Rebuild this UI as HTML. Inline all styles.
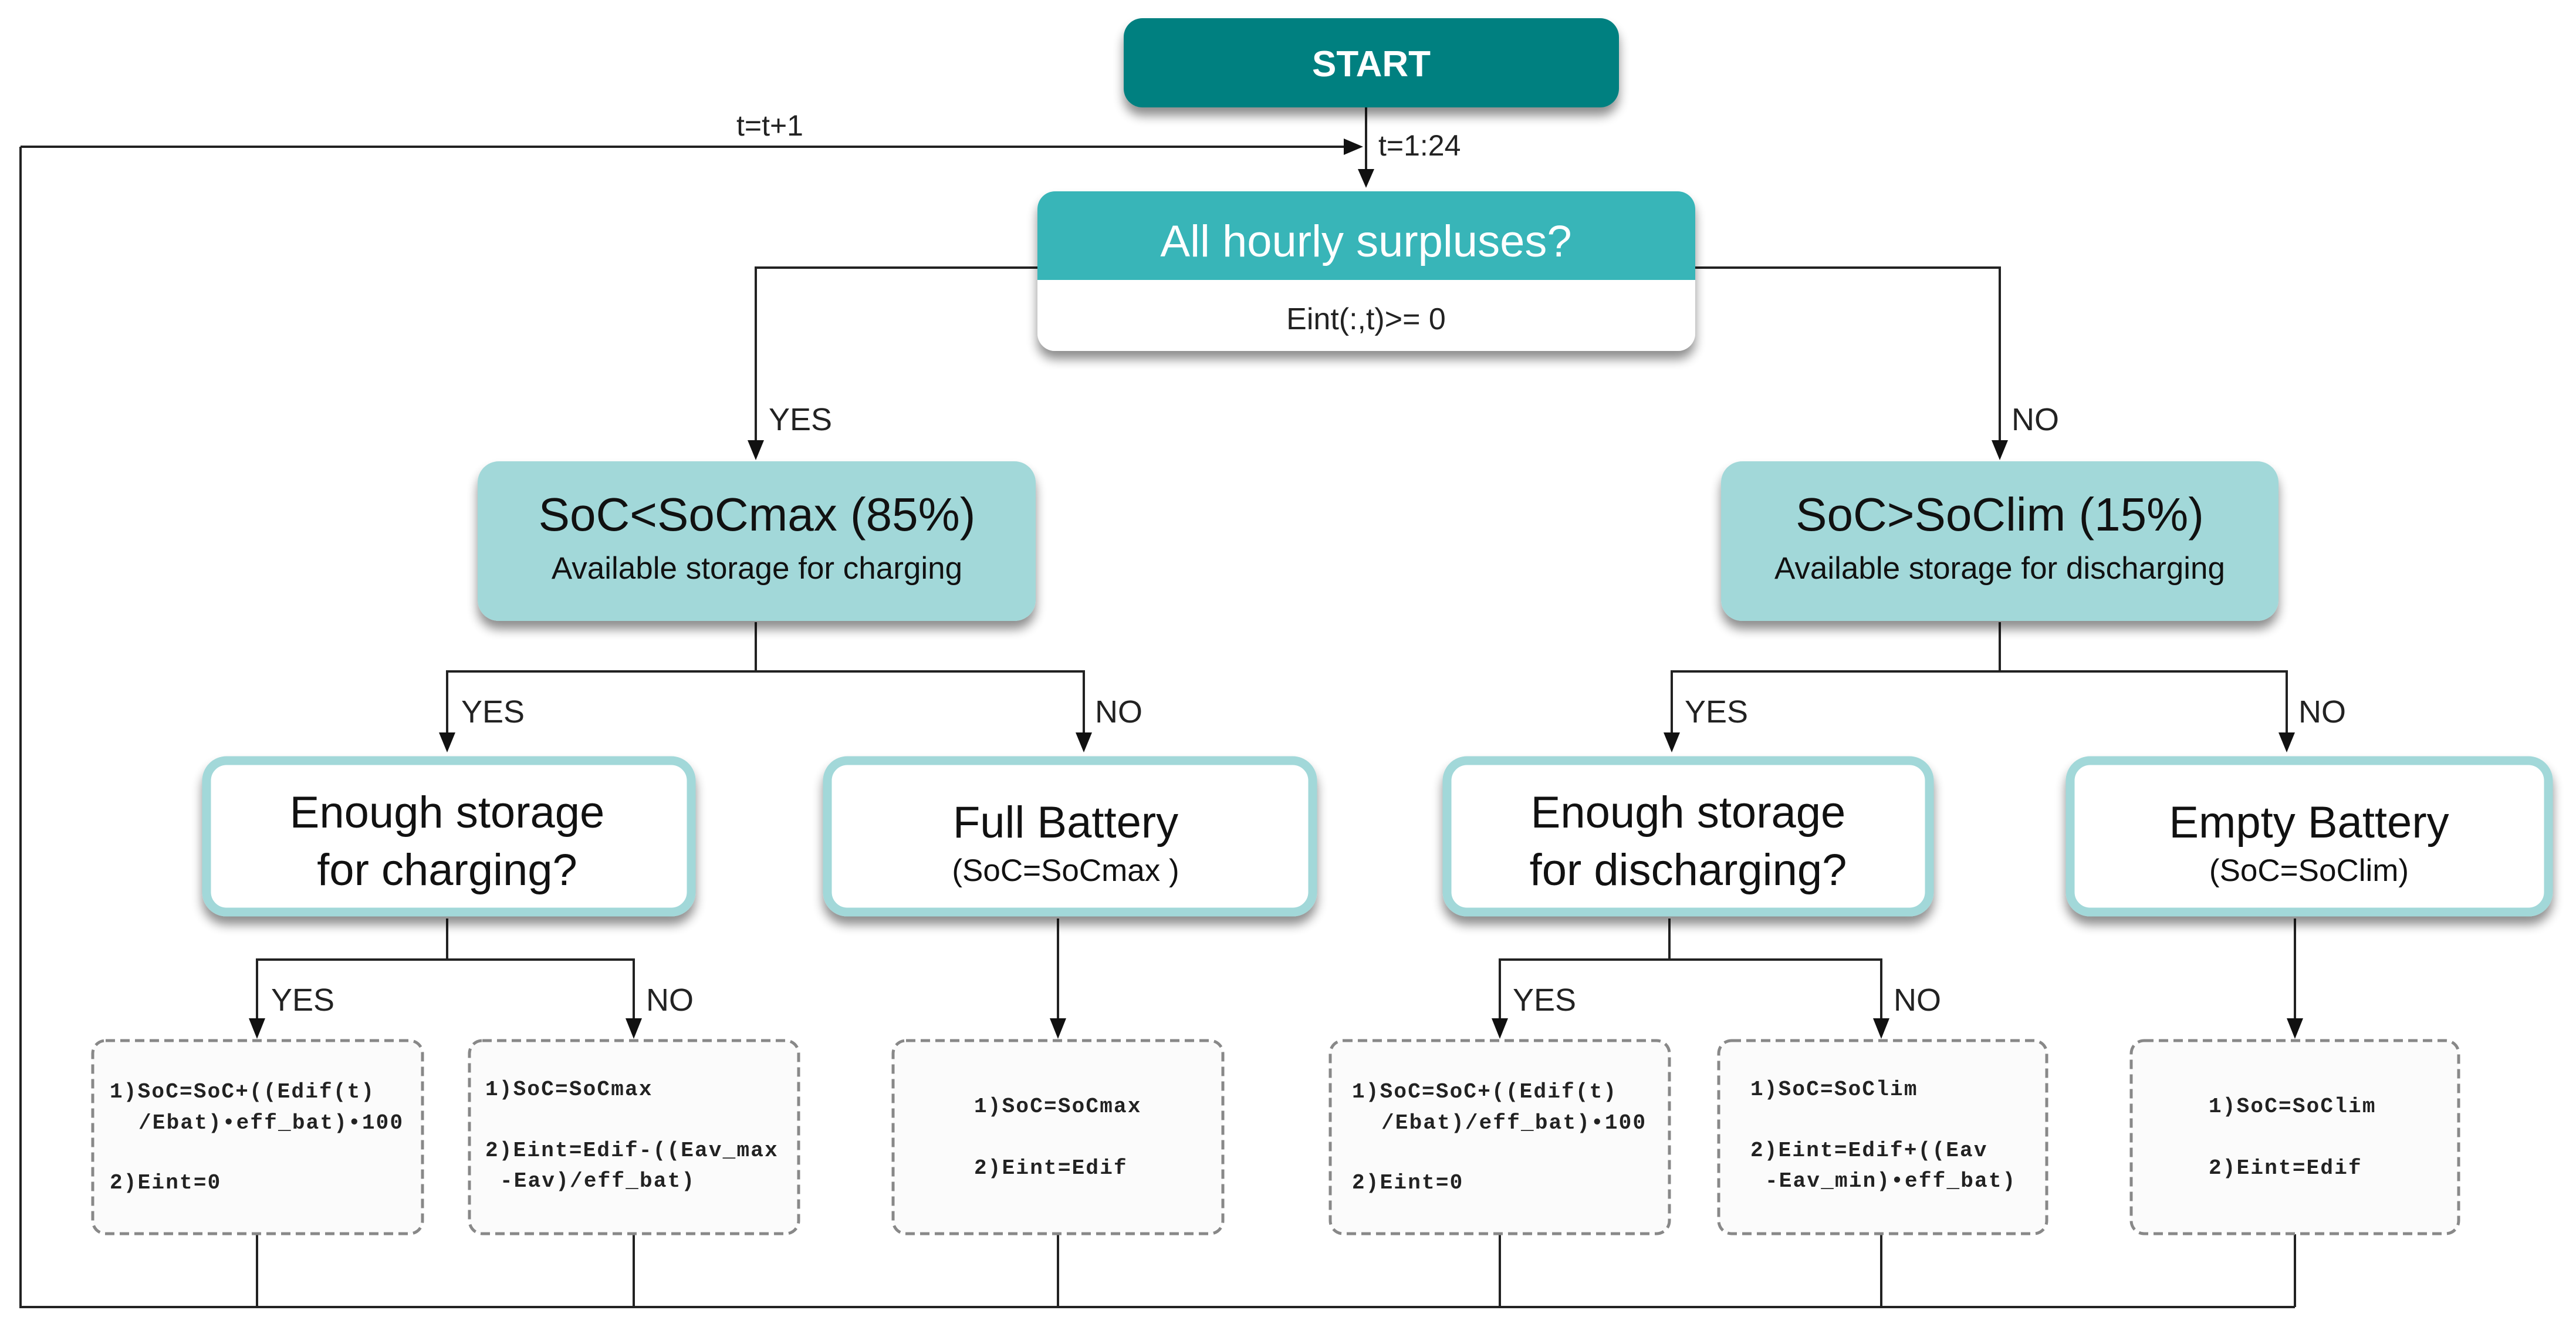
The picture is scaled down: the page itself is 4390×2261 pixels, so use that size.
<!DOCTYPE html>
<html><head><meta charset="utf-8"><style>
html,body{margin:0;padding:0;background:#fff;}
svg{display:block;}
.s{font-family:"Liberation Sans",sans-serif;}
.m{font-family:"Liberation Mono",monospace;font-weight:bold;font-size:36px;letter-spacing:2.2px;fill:#222;}
</style></head><body>
<svg width="4390" height="2261" viewBox="0 0 4390 2261" xmlns="http://www.w3.org/2000/svg">
<defs>
<filter id="sh" x="-10%" y="-20%" width="120%" height="160%">
<feGaussianBlur in="SourceAlpha" stdDeviation="9"/>
<feOffset dx="0" dy="14" result="b"/>
<feComponentTransfer><feFuncA type="linear" slope="0.45"/></feComponentTransfer>
<feMerge><feMergeNode/><feMergeNode in="SourceGraphic"/></feMerge>
</filter>
</defs>
<rect width="4390" height="2261" fill="#fff"/>

<g stroke="#222" stroke-width="4" fill="none">
<polyline points="35,250 35,2227 3911,2227"/>
<line x1="35" y1="250" x2="2300" y2="250"/>
<line x1="2328" y1="183" x2="2328" y2="290"/>
<polyline points="1768,456 1288,456 1288,750"/>
<polyline points="2889,456 3408,456 3408,750"/>
<line x1="1288" y1="1060" x2="1288" y2="1144"/>
<polyline points="762,1250 762,1144 1847,1144 1847,1250"/>
<line x1="3408" y1="1060" x2="3408" y2="1144"/>
<polyline points="2849,1250 2849,1144 3897,1144 3897,1250"/>
<line x1="762" y1="1565" x2="762" y2="1635"/>
<polyline points="438,1735 438,1635 1080,1635 1080,1735"/>
<line x1="1803" y1="1565" x2="1803" y2="1735"/>
<line x1="2845" y1="1565" x2="2845" y2="1635"/>
<polyline points="2556,1735 2556,1635 3206,1635 3206,1735"/>
<line x1="3911" y1="1565" x2="3911" y2="1735"/>
<line x1="438" y1="2103" x2="438" y2="2227"/>
<line x1="1080" y1="2103" x2="1080" y2="2227"/>
<line x1="1803" y1="2103" x2="1803" y2="2227"/>
<line x1="2556" y1="2103" x2="2556" y2="2227"/>
<line x1="3206" y1="2103" x2="3206" y2="2227"/>
<line x1="3911" y1="2103" x2="3911" y2="2227"/>
</g>
<g fill="#111">
<polygon points="2290,236 2323,250 2290,264"/>
<polygon points="2314,288 2342,288 2328,320"/>
<polygon points="1274,750 1302,750 1288,784"/>
<polygon points="3394,750 3422,750 3408,784"/>
<polygon points="748,1248 776,1248 762,1282"/>
<polygon points="1833,1248 1861,1248 1847,1282"/>
<polygon points="2835,1248 2863,1248 2849,1282"/>
<polygon points="3883,1248 3911,1248 3897,1282"/>
<polygon points="424,1735 452,1735 438,1770"/>
<polygon points="1066,1735 1094,1735 1080,1770"/>
<polygon points="1789,1735 1817,1735 1803,1770"/>
<polygon points="2542,1735 2570,1735 2556,1770"/>
<polygon points="3192,1735 3220,1735 3206,1770"/>
<polygon points="3897,1735 3925,1735 3911,1770"/>
</g>

<rect x="1915" y="31" width="844" height="152" rx="32" fill="#008080" filter="url(#sh)"/>
<text x="2337" y="130" class="s" font-size="62" font-weight="bold" fill="#fff" text-anchor="middle">START</text>
<text x="1312" y="231" class="s" font-size="50" fill="#222" text-anchor="middle">t=t+1</text>
<text x="2349" y="265" class="s" font-size="50" fill="#222">t=1:24</text>

<g filter="url(#sh)">
<rect x="1768" y="326" width="1121" height="272" rx="30" fill="#fff"/>
</g>
<path d="M1768,477 V356 a30,30 0 0 1 30,-30 H2859 a30,30 0 0 1 30,30 V477 Z" fill="#38b5b8"/>
<text x="2328" y="437" class="s" font-size="76" fill="#fff" text-anchor="middle">All hourly surpluses?</text>
<text x="2328" y="561" class="s" font-size="52" fill="#222" text-anchor="middle">Eint(:,t)&gt;= 0</text>

<g class="s" font-size="54" fill="#222">
<text x="1310" y="733">YES</text>
<text x="3428" y="733">NO</text>
<text x="786" y="1231">YES</text>
<text x="1866" y="1231">NO</text>
<text x="2871" y="1231">YES</text>
<text x="3917" y="1231">NO</text>
<text x="462" y="1722">YES</text>
<text x="1101" y="1722">NO</text>
<text x="2578" y="1722">YES</text>
<text x="3227" y="1722">NO</text>
</g>

<rect x="814" y="786" width="951" height="272" rx="36" fill="#a2d8d9" filter="url(#sh)"/>
<text x="1290" y="904" class="s" font-size="80" fill="#111" text-anchor="middle">SoC&lt;SoCmax (85%)</text>
<text x="1290" y="986" class="s" font-size="53" fill="#111" text-anchor="middle">Available storage for charging</text>
<rect x="2933" y="786" width="950" height="272" rx="36" fill="#a2d8d9" filter="url(#sh)"/>
<text x="3408" y="904" class="s" font-size="80" fill="#111" text-anchor="middle">SoC&gt;SoClim (15%)</text>
<text x="3408" y="986" class="s" font-size="53" fill="#111" text-anchor="middle">Available storage for discharging</text>

<g fill="#fff" stroke="#a2d8d9" stroke-width="15" filter="url(#sh)">
<rect x="352" y="1296" width="826" height="258" rx="34"/>
<rect x="1410" y="1296" width="827" height="258" rx="34"/>
<rect x="2466" y="1296" width="822" height="258" rx="34"/>
<rect x="3528" y="1296" width="815" height="258" rx="34"/>
</g>
<g class="s" fill="#111" text-anchor="middle">
<text x="762" y="1410" font-size="76">Enough storage</text>
<text x="762" y="1508" font-size="76">for charging?</text>
<text x="1816" y="1427" font-size="76">Full Battery</text>
<text x="1816" y="1501" font-size="53">(SoC=SoCmax )</text>
<text x="2877" y="1410" font-size="76">Enough storage</text>
<text x="2877" y="1508" font-size="76">for discharging?</text>
<text x="3935" y="1427" font-size="76">Empty Battery</text>
<text x="3935" y="1501" font-size="53">(SoC=SoClim)</text>
</g>

<g fill="#fbfbfb" stroke="#888" stroke-width="5" stroke-dasharray="16,9">
<rect x="158" y="1773" width="562" height="329" rx="22"/>
<rect x="800" y="1773" width="561" height="329" rx="22"/>
<rect x="1522" y="1773" width="562" height="329" rx="22"/>
<rect x="2267" y="1773" width="578" height="329" rx="22"/>
<rect x="2929" y="1773" width="559" height="329" rx="22"/>
<rect x="3632" y="1773" width="558" height="329" rx="22"/>
</g>
<g class="m">
<text x="187" y="1870">1)SoC=SoC+((Edif(t)</text>
<text x="236" y="1923">/Ebat)•eff_bat)•100</text>
<text x="187" y="2025">2)Eint=0</text>

<text x="827" y="1866">1)SoC=SoCmax</text>
<text x="827" y="1970">2)Eint=Edif-((Eav_max</text>
<text x="852" y="2022">-Eav)/eff_bat)</text>

<text x="1660" y="1895">1)SoC=SoCmax</text>
<text x="1660" y="2000">2)Eint=Edif</text>

<text x="2304" y="1870">1)SoC=SoC+((Edif(t)</text>
<text x="2354" y="1923">/Ebat)/eff_bat)•100</text>
<text x="2304" y="2025">2)Eint=0</text>

<text x="2983" y="1866">1)SoC=SoClim</text>
<text x="2983" y="1970">2)Eint=Edif+((Eav</text>
<text x="3008" y="2022">-Eav_min)•eff_bat)</text>

<text x="3764" y="1895">1)SoC=SoClim</text>
<text x="3764" y="2000">2)Eint=Edif</text>
</g>
</svg>
</body></html>
